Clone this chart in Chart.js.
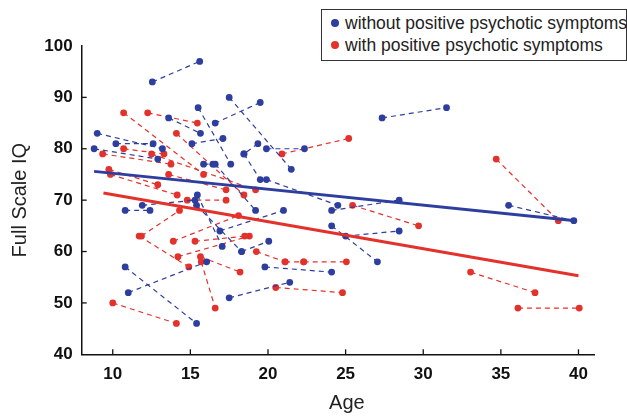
<!DOCTYPE html>
<html>
<head>
<meta charset="utf-8">
<script src="https://cdn.jsdelivr.net/npm/chart.js@4.4.1/dist/chart.umd.min.js"></script>
<style>
  html, body { margin: 0; padding: 0; background: #fff; }
  #wrap { position: relative; width: 627px; height: 416px; overflow: hidden; }
  #legend {
    position: absolute; left: 321px; top: 9px; width: 306px; height: 52px;
    box-sizing: border-box; border: 1.5px solid #333; background: #fff;
    font-family: 'Liberation Sans', Arial, Helvetica, sans-serif; font-size: 17.5px; color: #222;
  }
  .item { position: absolute; left: 0; height: 20px; line-height: 20px; white-space: nowrap; }
  .dot { position: absolute; left: 9px; top: 6px; width: 8px; height: 8px; border-radius: 50%; }
  .txt { position: absolute; left: 23px; top: 0; }
</style>
</head>
<body>
<div id="wrap">
  <canvas id="c" width="627" height="416"></canvas>
  <div id="legend">
    <div class="item" style="top:3px;"><span class="dot" style="background:#2D3E9E"></span><span class="txt">without positive psychotic symptoms</span></div>
    <div class="item" style="top:25px;"><span class="dot" style="background:#E3312B"></span><span class="txt">with positive psychotic symptoms</span></div>
  </div>
</div>
<script>
// ---- data (age, IQ) : each entry is one subject's two assessments [age1, iq1, age2, iq2]
const withoutPairs = [
  [12.55, 93, 15.6, 97],
  [17.5, 90, 21.5, 76],
  [19.5, 89, 16.6, 85],
  [27.35, 86, 31.5, 88],
  [35.5, 69, 39.7, 66],
  [19.9, 80, 22.35, 80],
  [10.8, 57, 15.4, 46],
  [11.0, 52, 16.05, 58],
  [17.5, 51, 21.4, 54],
  [19.8, 57, 24.1, 56],
  [24.1, 65, 27.05, 58],
  [25.0, 63, 28.45, 64],
  [24.1, 68, 28.45, 70],
  [19.9, 74, 24.5, 69],
  [16.9, 64, 21.0, 68],
  [18.3, 60, 20.05, 62],
  [10.8, 68, 12.4, 68],
  [15.5, 88, 17.6, 77],
  [13.6, 86, 15.65, 83],
  [15.1, 81, 17.1, 82],
  [19.35, 81, 18.45, 79],
  [18.45, 79, 19.5, 74],
  [9.0, 83, 13.2, 80],
  [10.2, 81, 12.6, 81],
  [8.8, 80, 12.9, 78],
  [11.9, 69, 15.3, 70],
  [15.4, 69, 18.3, 60],
  [16.6, 77, 19.2, 68],
  [15.85, 77, 16.45, 77],
  [15.45, 71, 17.05, 61]
];
const withPairs = [
  [10.7, 87, 15.85, 75],
  [12.25, 87, 15.45, 85],
  [20.9, 79, 25.2, 82],
  [25.45, 69, 29.7, 65],
  [34.7, 78, 38.7, 66],
  [33.05, 56, 37.2, 52],
  [36.1, 49, 40.05, 49],
  [10.0, 50, 14.1, 46],
  [20.5, 53, 24.8, 52],
  [15.7, 58, 16.6, 49],
  [15.65, 59, 18.2, 56],
  [19.25, 60, 21.1, 58],
  [21.1, 58, 22.3, 58],
  [22.3, 58, 25.05, 58],
  [11.7, 63, 14.9, 57],
  [11.85, 63, 14.3, 68],
  [13.9, 62, 18.1, 67],
  [15.3, 62, 18.5, 63],
  [14.2, 59, 18.8, 63],
  [14.1, 83, 18.45, 71],
  [9.35, 79, 13.75, 77],
  [10.7, 80, 13.3, 79],
  [12.5, 79, 19.2, 72],
  [9.75, 76, 12.9, 73],
  [9.85, 75, 14.15, 71],
  [13.6, 75, 17.3, 72],
  [14.8, 70, 17.3, 70]
];
const trendWithout = [[8.8, 75.6], [39.8, 66.0]];
const trendWith = [[9.4, 71.4], [40.0, 55.3]];
const xTicks = [10, 15, 20, 25, 30, 35, 40];
const yTicks = [40, 50, 60, 70, 80, 90, 100];
const xRange = [8, 41];
const yRange = [40, 100];
const xTitle = 'Age';
const yTitle = 'Full Scale IQ';

const BLUE = '#2D3E9E', RED = '#E3312B';
const FONT = "'Liberation Sans', Arial, Helvetica, sans-serif";

function segDatasets(pairs, color) {
  return pairs.map(p => ({
    type: 'line',
    data: [{ x: p[0], y: p[1] }, { x: p[2], y: p[3] }],
    borderColor: color,
    backgroundColor: color,
    borderWidth: 1.2,
    borderDash: [5, 4],
    pointRadius: 3.4,
    pointBorderWidth: 0,
    pointBackgroundColor: color,
    fill: false,
    tension: 0,
    order: 2
  }));
}
function trendDataset(pts, color) {
  return {
    type: 'line',
    data: pts.map(p => ({ x: p[0], y: p[1] })),
    borderColor: color,
    borderWidth: 3,
    pointRadius: 0,
    fill: false,
    order: 1
  };
}

const insideTicks = {
  id: 'insideTicks',
  afterDatasetsDraw(chart) {
    const { ctx, scales: { x, y } } = chart;
    ctx.save();
    ctx.strokeStyle = '#111';
    ctx.lineWidth = 1.3;
    xTicks.forEach(v => {
      const px = x.getPixelForValue(v);
      ctx.beginPath(); ctx.moveTo(px, y.bottom); ctx.lineTo(px, y.bottom - 5); ctx.stroke();
    });
    yTicks.forEach(v => {
      if (v === yRange[0] || v === yRange[1]) return;
      const py = y.getPixelForValue(v);
      ctx.beginPath(); ctx.moveTo(x.left, py); ctx.lineTo(x.left + 5, py); ctx.stroke();
    });
    // x-axis title, slightly right of the plot centre as in the reference
    ctx.fillStyle = '#222';
    ctx.font = '20px ' + FONT;
    ctx.textAlign = 'center';
    ctx.textBaseline = 'middle';
    ctx.fillText(xTitle, (x.left + x.right) / 2 + 9, 403);
    ctx.restore();
  }
};

new Chart(document.getElementById('c'), {
  type: 'line',
  data: {
    datasets: [
      trendDataset(trendWithout, BLUE),
      trendDataset(trendWith, RED),
      ...segDatasets(withoutPairs, BLUE),
      ...segDatasets(withPairs, RED)
    ]
  },
  options: {
    responsive: false,
    animation: false,
    devicePixelRatio: 1,
    layout: { padding: { top: 46, right: 33, bottom: 0, left: 0 } },
    plugins: { legend: { display: false }, tooltip: { enabled: false } },
    scales: {
      x: {
        type: 'linear', min: xRange[0], max: xRange[1],
        grid: { display: false, drawTicks: false },
        border: { display: true, color: '#111', width: 1.5 },
        afterBuildTicks: s => { s.ticks = xTicks.map(v => ({ value: v })); },
        afterFit: s => { s.height = 61.7; },
        ticks: { padding: 10, color: '#111', font: { family: FONT, size: 17, weight: 'bold' }, maxRotation: 0 },
        title: { display: false }
      },
      y: {
        type: 'linear', min: yRange[0], max: yRange[1],
        grid: { display: false, drawTicks: false },
        border: { display: true, color: '#111', width: 1.5 },
        afterBuildTicks: s => { s.ticks = yTicks.map(v => ({ value: v })); },
        afterFit: s => { s.width = 81.7; },
        ticks: { padding: 9, color: '#111', font: { family: FONT, size: 17, weight: 'bold' } },
        title: { display: true, text: yTitle, color: '#222', font: { family: FONT, size: 20, lineHeight: 1.2 }, padding: { top: 8.6, bottom: 0 } }
      }
    }
  },
  plugins: [insideTicks]
});
</script>
</body>
</html>
